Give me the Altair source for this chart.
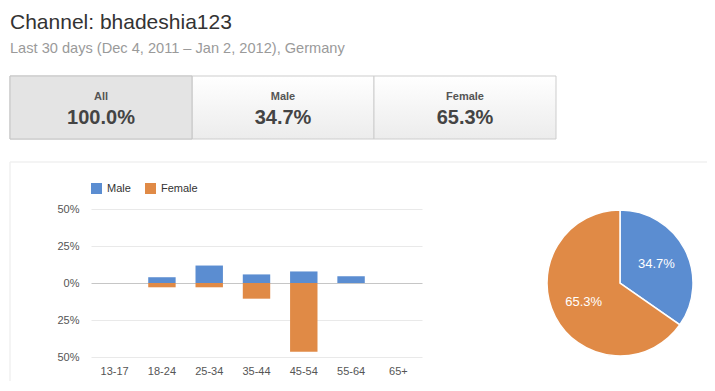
import altair as alt
import pandas as pd

# ---------------- data ----------------
ages = ["13-17", "18-24", "25-34", "35-44", "45-54", "55-64", "65+"]
male_pct = [0.0, 3.9, 11.8, 5.8, 7.8, 4.6, 0.0]
female_pct = [0.0, 2.9, 2.9, 10.6, 46.4, 0.0, 0.0]
genders = ["Male", "Female"]
gender_share = [34.7, 65.3]
tab_labels = ["All", "Male", "Female"]
tab_values = ["100.0%", "34.7%", "65.3%"]
y_ticks = [-50, -25, 0, 25, 50]
title_text = "Channel: bhadeshia123"
subtitle_text = "Last 30 days (Dec 4, 2011 – Jan 2, 2012), Germany"

FONT = "Liberation Sans"
BLUE = "#5b8dd1"
ORANGE = "#e08a46"

rows = []
for a, m, f in zip(ages, male_pct, female_pct):
    rows.append({"age": a, "gender": "Male", "value": m})
    rows.append({"age": a, "gender": "Female", "value": -f})
bars_df = pd.DataFrame(rows)

pie_df = pd.DataFrame({
    "gender": genders,
    "share": gender_share,
    "idx": list(range(len(genders))),
    "label": [f"{v}%" for v in gender_share],
})
tabs_df = pd.DataFrame({"tab": tab_labels, "val": tab_values})
one = pd.DataFrame({"k": [0]})

color_scale = alt.Scale(domain=genders, range=[BLUE, ORANGE])
legend = alt.Legend(
    title=None, orient="none", legendX=0, legendY=-26, direction="horizontal",
    symbolType="square", symbolSize=121, symbolStrokeWidth=0,
    labelFontSize=11, labelColor="#333", labelFont=FONT, columnPadding=14,
    labelOffset=5,
)

# ---------------- header ----------------
title = alt.Chart(pd.DataFrame({"t": [title_text]})).mark_text(
    align="left", baseline="alphabetic", fontSize=21, color="#333", font=FONT
).encode(x=alt.value(-81), y=alt.value(-180), text="t:N")

subtitle = alt.Chart(pd.DataFrame({"t": [subtitle_text]})).mark_text(
    align="left", baseline="alphabetic", fontSize=14.6, color="#9a9a9a", font=FONT
).encode(x=alt.value(-81), y=alt.value(-156), text="t:N")

tab_x = alt.X(
    "tab:N", sort=tab_labels,
    scale=alt.Scale(domain=tab_labels, range=[-81, 465], paddingInner=0, paddingOuter=0),
    axis=None,
)
grad = alt.Gradient(
    gradient="linear",
    stops=[alt.GradientStop(color="#ffffff", offset=0), alt.GradientStop(color="#ececec", offset=1)],
    x1=0, x2=0, y1=0, y2=1,
)
tab_rect = alt.Chart(tabs_df).mark_rect(fill=grad, stroke="#cdcdcd", strokeWidth=1).encode(
    x=tab_x, y=alt.value(-133), y2=alt.value(-70)
)
sel_rect = alt.Chart(tabs_df).transform_filter(alt.datum.tab == "All").mark_rect(
    fill="#e4e4e4", stroke="#c4c4c4", strokeWidth=1
).encode(x=tab_x, y=alt.value(-133), y2=alt.value(-70))
tab_lbl = alt.Chart(tabs_df).mark_text(
    fontSize=11, fontWeight="bold", color="#555", font=FONT, baseline="middle"
).encode(x=tab_x, y=alt.value(-112), text="tab:N")
tab_val = alt.Chart(tabs_df).mark_text(
    fontSize=20, fontWeight="bold", color="#444", font=FONT, baseline="middle"
).encode(x=tab_x, y=alt.value(-91), text="val:N")

# panel border (faint)
border_top = alt.Chart(one).mark_rule(color="#f0f0f0", strokeWidth=1.5).encode(
    x=alt.value(-81), x2=alt.value(624), y=alt.value(-47)
)
border_left = alt.Chart(one).mark_rule(color="#f0f0f0", strokeWidth=1.5).encode(
    x=alt.value(-81), y=alt.value(-47), y2=alt.value(172)
)

# ---------------- bars ----------------
bars = alt.Chart(bars_df).mark_bar().encode(
    x=alt.X(
        "age:N", sort=ages,
        scale=alt.Scale(paddingInner=0.42, paddingOuter=0.21),
        axis=alt.Axis(title=None, labelAngle=0, domain=False, ticks=False, labelPadding=8,
                      labelFontSize=11, labelColor="#555", labelFont=FONT, grid=False),
    ),
    y=alt.Y(
        "value:Q", stack=None,
        scale=alt.Scale(domain=[-50, 50], nice=False),
        axis=alt.Axis(
            title=None, values=y_ticks, labelExpr="abs(datum.value) + '%'",
            domain=False, ticks=False, grid=True,
            gridColor={"condition": {"test": "datum.value === 0", "value": "#c6c6c6"},
                       "value": "#e9e9e9"},
            labelPadding=12, labelFontSize=11, labelColor="#555", labelFont=FONT,
            labelOverlap=False,
        ),
    ),
    color=alt.Color("gender:N", scale=color_scale, legend=legend),
)

# ---------------- pie ----------------
pie = alt.Chart(pie_df).mark_arc(outerRadius=73, stroke="white", strokeWidth=1.5).encode(
    theta=alt.Theta("share:Q", stack=True),
    color=alt.Color("gender:N", scale=color_scale, legend=legend),
    order=alt.Order("idx:Q"),
    x=alt.value(529), y=alt.value(74),
)
pie_text = alt.Chart(pie_df).mark_text(radius=41, fontSize=13, color="white", font=FONT).encode(
    theta=alt.Theta("share:Q", stack=True),
    order=alt.Order("idx:Q"),
    text="label:N",
    x=alt.value(529), y=alt.value(74),
)

chart = alt.layer(
    border_top, border_left, tab_rect, sel_rect, tab_lbl, tab_val, title, subtitle,
    bars, pie, pie_text,
).resolve_scale(x="independent").properties(
    width=331, height=148,
    autosize=alt.AutoSizeParams(type="none"),
    padding={"left": 83, "top": 201, "right": 285, "bottom": 24},
).configure_view(stroke=None)

chart.save("out.html", embed_options={"renderer": "svg", "actions": False})
